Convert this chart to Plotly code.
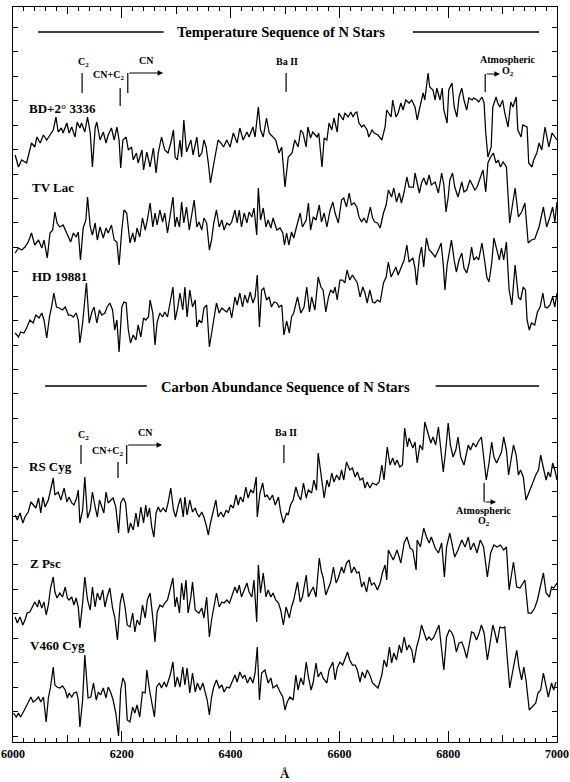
import plotly.graph_objects as go

FONT = "Liberation Serif"

# ---------------- data: (wavelength in Angstrom, relative flux + offset) ----------------
BD_3336 = [(6004,587),(6010,575),(6016,582),(6025,579),(6034,599),(6040,595),(6044,605),(6050,599),(6056,607),(6062,602),
(6068,607),(6074,612),(6079,625),(6083,610),(6089,614),(6092,609),(6099,619),(6103,609),(6108,615),(6114,605),(6118,620),
(6123,614),(6126,619),(6132,610),(6137,625),(6142,609),(6146,575),(6151,614),(6154,620),(6160,602),(6166,610),(6171,599),
(6175,607),(6181,614),(6186,602),(6191,615),(6195,602),(6198,574),(6202,602),(6208,605),(6212,592),(6218,595),(6221,582),
(6227,589),(6230,579),(6237,592),(6240,572),(6246,590),(6252,575),(6258,594),(6263,569),(6267,589),(6273,605),(6279,592),
(6285,589),(6290,599),(6295,612),(6298,585),(6302,582),(6307,602),(6310,585),(6314,622),(6319,590),(6322,594),(6327,602),
(6331,587),(6338,605),(6342,585),(6347,589),(6351,602),(6355,595),(6359,579),(6363,559),(6368,575),(6373,592),(6377,602),
(6382,599),(6387,595),(6393,602),(6399,595),(6405,609),(6412,599),(6417,614),(6423,602),(6430,610),(6434,605),(6441,615),
(6445,605),(6451,635),(6455,612),(6460,605),(6466,624),(6471,609),(6477,605),(6483,602),(6489,589),(6494,595),(6500,555),
(6506,585),(6513,589),(6518,602),(6524,595),(6529,612),(6533,609),(6539,595),(6542,615),(6547,604),(6551,610),(6559,605),
(6562,609),(6568,575),(6572,604),(6577,602),(6581,619),(6586,612),(6590,624),(6596,610),(6599,629),(6607,622),(6610,629),
(6616,625),(6621,630),(6625,625),(6629,629),(6632,630),(6636,619),(6641,615),(6645,617),(6651,612),(6654,605),(6660,612),
(6664,609),(6671,607),(6678,602),(6684,615),(6687,632),(6695,625),(6698,642),(6704,625),(6708,629),(6713,639),(6717,632),
(6722,642),(6728,639),(6733,642),(6739,635),(6743,622),(6748,635),(6754,649),(6757,642),(6763,669),(6766,655),(6772,652),
(6776,642),(6779,654),(6785,642),(6789,654),(6792,632),(6798,619),(6801,652),(6807,659),(6811,635),(6816,625),(6820,645),
(6825,654),(6829,642),(6834,632),(6838,644),(6844,642),(6847,644),(6853,642),(6856,640),(6862,645),(6866,639),(6869,609),
(6873,585),(6879,595),(6882,635),(6888,645),(6891,639),(6895,635),(6900,642),(6904,629),(6910,615),(6915,640),(6919,635),
(6925,645),(6928,612),(6934,605),(6937,617),(6945,615),(6948,579),(6954,575),(6957,582),(6963,589),(6967,599),(6972,592),
(6978,615),(6981,605),(6985,595),(6991,609),(6996,605),(7000,602)]

TV_LAC = [(6004,489),(6010,494),(6016,492),(6022,495),(6028,500),(6034,509),(6040,497),(6047,502),(6053,494),(6057,502),
(6063,484),(6068,509),(6073,512),(6077,530),(6081,519),(6086,515),(6092,517),(6097,510),(6102,505),(6106,500),(6111,509),
(6116,505),(6120,510),(6124,482),(6129,514),(6134,522),(6137,545),(6142,515),(6146,507),(6151,519),(6155,502),(6160,515),
(6166,504),(6171,514),(6175,509),(6181,517),(6186,502),(6191,500),(6195,477),(6200,512),(6204,532),(6209,529),(6215,499),
(6220,509),(6224,500),(6228,514),(6233,505),(6238,524),(6243,512),(6247,522),(6252,539),(6257,515),(6261,529),(6265,517),
(6270,532),(6275,520),(6279,529),(6284,509),(6289,527),(6294,545),(6298,515),(6301,525),(6306,515),(6310,540),(6314,519),
(6319,535),(6324,512),(6328,525),(6333,542),(6338,515),(6342,520),(6347,512),(6351,524),(6356,519),(6361,492),(6365,502),
(6369,519),(6374,532),(6379,515),(6384,522),(6388,512),(6393,519),(6398,517),(6402,520),(6408,532),(6412,519),(6416,532),
(6420,515),(6425,529),(6430,519),(6434,530),(6439,525),(6443,534),(6448,507),(6451,554),(6455,522),(6460,534),(6465,515),
(6469,522),(6474,514),(6478,524),(6485,512),(6491,514),(6496,509),(6499,497),(6503,509),(6507,497),(6512,510),(6516,504),
(6523,519),(6528,529),(6532,515),(6539,522),(6543,539),(6547,512),(6552,525),(6557,522),(6563,537),(6567,520),(6572,529),
(6577,515),(6583,532),(6588,540),(6592,529),(6598,519),(6604,542),(6608,544),(6613,535),(6618,549),(6622,537),(6627,539),
(6632,535),(6636,525),(6641,520),(6645,524),(6650,519),(6653,525),(6657,535),(6661,524),(6665,520),(6670,519),(6675,514),
(6681,529),(6686,537),(6690,552),(6696,545),(6700,554),(6705,540),(6710,549),(6714,539),(6719,550),(6724,565),(6728,555),
(6736,555),(6739,569),(6747,549),(6751,559),(6755,564),(6760,557),(6765,567),(6769,557),(6776,560),(6782,549),(6788,569),
(6792,557),(6796,530),(6800,545),(6803,562),(6808,569),(6812,555),(6818,545),(6825,560),(6829,550),(6834,552),(6840,562),
(6845,557),(6849,552),(6853,555),(6858,562),(6864,572),(6869,550),(6873,579),(6878,585),(6883,589),(6888,579),(6892,582),
(6896,575),(6901,580),(6907,575),(6913,519),(6923,554),(6929,525),(6935,530),(6941,539),(6947,499),(6953,502),(6959,503),
(6967,515),(6975,535),(6981,515),(6987,525),(6992,535),(6996,520),(7000,540)]

HD_19881 = [(6004,409),(6010,405),(6014,410),(6020,409),(6025,414),(6031,422),(6037,419),(6042,427),(6048,424),(6053,429),
(6057,422),(6062,404),(6067,425),(6071,435),(6075,449),(6080,435),(6085,434),(6091,432),(6096,435),(6102,427),(6106,427),
(6111,425),(6116,429),(6120,422),(6123,399),(6128,419),(6132,442),(6135,459),(6140,419),(6145,430),(6149,435),(6154,419),
(6159,432),(6163,427),(6169,429),(6173,435),(6178,439),(6183,432),(6187,412),(6191,422),(6195,390),(6200,435),(6204,440),
(6208,439),(6212,412),(6216,399),(6221,407),(6226,402),(6230,417),(6235,405),(6240,424),(6244,422),(6249,425),(6252,442),
(6257,429),(6261,397),(6265,420),(6270,429),(6275,425),(6279,430),(6284,425),(6289,439),(6294,455),(6298,422),(6302,432),
(6307,449),(6312,432),(6316,455),(6320,425),(6325,452),(6330,435),(6335,442),(6338,415),(6342,422),(6347,419),(6351,434),
(6356,437),(6361,395),(6365,409),(6369,422),(6374,439),(6379,429),(6384,434),(6388,432),(6393,430),(6398,435),(6402,424),
(6408,445),(6412,437),(6417,449),(6422,435),(6426,447),(6431,439),(6436,450),(6441,439),(6445,445),(6449,467),(6453,415),
(6457,452),(6461,454),(6466,442),(6471,445),(6475,435),(6480,440),(6485,439),(6489,435),(6494,437),(6498,407),(6503,421),
(6508,409),(6512,425),(6516,429),(6523,445),(6529,429),(6535,435),(6540,455),(6545,430),(6549,445),(6555,432),(6561,465),
(6566,455),(6570,452),(6575,430),(6580,445),(6584,452),(6589,449),(6592,455),(6596,442),(6601,462),(6606,462),(6610,459),
(6614,472),(6619,462),(6624,467),(6629,462),(6633,459),(6638,445),(6643,455),(6647,449),(6651,439),(6656,452),(6661,440),
(6665,439),(6670,442),(6675,440),(6681,459),(6686,465),(6690,480),(6695,465),(6699,470),(6704,475),(6708,467),(6714,475),
(6719,482),(6724,497),(6728,480),(6735,484),(6739,474),(6742,457),(6747,485),(6751,495),(6755,475),(6760,504),(6765,492),
(6769,490),(6776,485),(6782,492),(6787,499),(6791,477),(6794,452),(6798,477),(6803,495),(6806,502),(6811,482),(6815,470),
(6820,482),(6825,489),(6829,474),(6834,469),(6839,480),(6843,495),(6847,482),(6852,485),(6856,482),(6862,499),(6866,485),
(6871,465),(6875,460),(6880,479),(6884,504),(6889,492),(6894,482),(6898,494),(6902,482),(6907,500),(6912,452),(6917,437),
(6923,477),(6929,445),(6933,442),(6938,455),(6942,452),(6945,422),(6949,412),(6953,419),(6959,417),(6964,430),(6969,435),
(6974,449),(6978,435),(6982,434),(6987,437),(6992,445),(6996,435),(7000,449)]

RS_CYG = [(6004,227),(6008,222),(6013,229),(6018,219),(6022,225),(6028,230),(6033,240),(6037,237),(6042,234),(6047,244),
(6051,229),(6055,245),(6059,235),(6065,242),(6071,255),(6074,264),(6077,247),(6083,250),(6088,242),(6094,254),(6099,240),
(6103,245),(6108,239),(6112,237),(6117,244),(6120,252),(6123,219),(6128,232),(6132,265),(6137,224),(6142,232),(6146,250),
(6151,235),(6155,225),(6159,242),(6163,235),(6167,229),(6171,250),(6175,239),(6180,242),(6184,244),(6189,235),(6194,209),
(6198,239),(6203,244),(6207,239),(6212,209),(6216,219),(6221,212),(6226,229),(6230,215),(6235,235),(6240,219),(6244,237),
(6247,225),(6251,234),(6255,215),(6259,205),(6263,229),(6267,235),(6271,230),(6276,234),(6281,230),(6285,239),(6290,254),
(6295,232),(6299,225),(6304,237),(6308,244),(6313,225),(6316,245),(6320,227),(6325,242),(6330,230),(6335,234),(6338,229),
(6342,225),(6347,230),(6351,225),(6356,215),(6359,207),(6363,219),(6368,230),(6373,242),(6377,225),(6382,230),(6387,225),
(6392,232),(6396,229),(6400,237),(6405,234),(6410,247),(6414,237),(6418,245),(6423,240),(6428,255),(6432,244),(6437,252),
(6442,249),(6447,265),(6449,225),(6454,249),(6459,259),(6463,245),(6467,247),(6472,242),(6477,247),(6482,237),(6488,245),
(6492,230),(6497,219),(6503,229),(6506,227),(6510,237),(6515,242),(6520,255),(6524,247),(6529,242),(6534,259),(6539,244),
(6543,252),(6549,249),(6553,262),(6558,252),(6561,289),(6567,265),(6572,244),(6577,262),(6581,255),(6586,269),(6590,260),
(6595,267),(6600,262),(6604,272),(6608,262),(6613,280),(6619,272),(6624,274),(6629,265),(6633,270),(6638,262),(6643,264),
(6647,254),(6651,260),(6656,254),(6661,259),(6668,257),(6673,260),(6678,277),(6682,262),(6688,295),(6693,277),(6698,284),
(6702,277),(6706,282),(6711,275),(6716,277),(6720,314),(6725,295),(6728,304),(6735,294),(6739,300),(6743,279),(6748,297),
(6753,292),(6757,320),(6763,307),(6768,299),(6772,305),(6777,297),(6782,315),(6787,292),(6791,270),(6796,295),(6800,319),
(6804,297),(6809,285),(6814,292),(6818,305),(6823,285),(6829,277),(6833,287),(6837,297),(6841,292),(6846,299),(6851,295),
(6855,300),(6861,305),(6866,282),(6870,262),(6875,279),(6880,300),(6884,285),(6889,279),(6894,285),(6898,290),(6902,305),
(6907,292),(6911,267),(6915,282),(6920,297),(6925,287),(6929,267),(6933,272),(6938,265),(6943,242),(6948,249),(6952,255),
(6957,262),(6961,267),(6966,272),(6970,287),(6975,274),(6980,262),(6984,270),(6988,265),(6992,279),(6996,272),(7000,262)]

Z_PSC = [(6004,125),(6008,119),(6013,125),(6018,117),(6022,122),(6026,129),(6031,130),(6036,135),(6040,140),(6045,135),
(6048,142),(6053,134),(6057,140),(6061,127),(6065,137),(6069,154),(6074,165),(6077,150),(6081,144),(6086,149),(6091,145),
(6096,155),(6100,144),(6103,142),(6108,145),(6112,137),(6116,144),(6120,135),(6123,114),(6128,139),(6132,165),(6137,142),
(6142,132),(6146,155),(6151,135),(6155,149),(6160,142),(6165,152),(6169,135),(6173,145),(6178,154),(6183,134),(6187,125),
(6192,102),(6197,139),(6201,149),(6206,135),(6210,117),(6215,115),(6220,129),(6224,110),(6228,122),(6233,117),(6238,137),
(6243,124),(6247,142),(6252,149),(6257,124),(6261,100),(6265,130),(6270,137),(6275,135),(6279,139),(6284,142),(6289,154),
(6294,164),(6298,135),(6301,145),(6306,129),(6310,159),(6314,142),(6318,162),(6322,129),(6327,145),(6330,160),(6335,132),
(6339,130),(6342,129),(6347,134),(6351,124),(6356,145),(6361,105),(6365,122),(6369,135),(6374,149),(6379,135),(6384,140),
(6388,139),(6393,142),(6398,139),(6402,145),(6408,155),(6412,149),(6416,157),(6420,145),(6425,152),(6430,159),(6434,150),
(6439,145),(6443,162),(6448,120),(6451,177),(6455,149),(6460,169),(6465,145),(6469,152),(6474,145),(6478,149),(6483,142),
(6488,139),(6492,132),(6497,117),(6502,135),(6508,124),(6512,135),(6516,142),(6523,160),(6528,140),(6532,145),(6539,167),
(6543,145),(6547,150),(6552,155),(6557,145),(6563,184),(6567,170),(6570,165),(6575,147),(6580,155),(6584,160),(6589,175),
(6594,159),(6598,164),(6604,175),(6608,169),(6613,179),(6618,182),(6622,169),(6627,175),(6632,169),(6636,170),(6641,155),
(6645,160),(6650,150),(6655,165),(6659,157),(6664,159),(6670,152),(6675,159),(6679,169),(6684,177),(6687,162),(6690,192),
(6699,182),(6706,192),(6713,179),(6719,199),(6724,205),(6730,194),(6735,192),(6741,172),(6743,202),(6749,195),(6755,214),
(6760,205),(6765,199),(6769,205),(6776,194),(6782,189),(6788,199),(6793,165),(6797,195),(6803,209),(6808,195),(6812,185),
(6818,192),(6825,202),(6831,195),(6837,205),(6841,192),(6847,199),(6853,189),(6859,202),(6865,195),(6872,165),(6878,189),
(6884,197),(6890,195),(6896,197),(6902,192),(6907,195),(6912,152),(6920,180),(6926,155),(6932,154),(6941,162),(6947,129),
(6953,129),(6959,134),(6964,142),(6969,155),(6975,169),(6980,149),(6986,145),(6990,155),(6994,154),(7000,159)]

V460_CYG = [(6001,29),(6006,25),(6010,29),(6014,25),(6019,30),(6024,35),(6028,40),(6033,45),(6037,40),(6042,42),(6047,45),
(6051,40),(6056,45),(6061,20),(6065,44),(6069,55),(6074,75),(6077,57),(6081,55),(6086,54),(6091,56),(6096,52),(6100,44),
(6103,49),(6108,45),(6112,49),(6117,50),(6120,42),(6123,15),(6128,42),(6132,87),(6138,44),(6143,45),(6148,59),(6153,42),
(6157,50),(6161,47),(6166,54),(6171,44),(6175,55),(6180,49),(6184,42),(6189,29),(6194,6),(6198,52),(6202,64),(6206,59),
(6210,22),(6215,20),(6220,35),(6224,29),(6228,37),(6233,25),(6238,50),(6243,49),(6246,72),(6251,52),(6260,25),(6264,55),
(6269,59),(6273,54),(6278,60),(6282,55),(6289,67),(6294,80),(6298,55),(6302,65),(6307,55),(6312,75),(6316,57),(6320,74),
(6325,49),(6330,69),(6335,50),(6339,59),(6344,52),(6349,59),(6353,49),(6357,42),(6361,27),(6365,45),(6369,55),(6374,62),
(6379,54),(6384,57),(6388,50),(6393,55),(6398,54),(6402,59),(6408,67),(6412,60),(6417,70),(6422,64),(6426,67),(6431,59),
(6436,65),(6441,59),(6445,69),(6449,95),(6453,42),(6457,69),(6463,72),(6469,59),(6474,64),(6478,54),(6485,57),(6491,50),
(6496,45),(6500,32),(6504,40),(6509,45),(6515,42),(6520,67),(6524,52),(6529,64),(6534,57),(6539,80),(6543,65),(6548,52),
(6552,60),(6557,79),(6561,65),(6566,70),(6570,64),(6577,59),(6581,72),(6588,80),(6592,62),(6596,74),(6601,80),(6606,77),
(6610,82),(6615,90),(6619,82),(6624,77),(6629,77),(6633,72),(6638,60),(6642,70),(6647,64),(6651,72),(6656,67),(6661,59),
(6665,57),(6671,54),(6678,67),(6682,82),(6687,75),(6692,95),(6696,79),(6700,89),(6705,82),(6710,97),(6714,89),(6719,105),
(6724,92),(6728,97),(6733,92),(6737,79),(6742,95),(6747,105),(6751,117),(6755,110),(6760,102),(6765,105),(6769,102),
(6773,104),(6778,110),(6783,117),(6788,92),(6792,72),(6797,105),(6802,112),(6806,110),(6810,105),(6815,90),(6820,99),
(6825,100),(6829,94),(6834,84),(6839,97),(6843,110),(6847,109),(6852,102),(6857,109),(6861,117),(6866,109),(6872,82),
(6877,99),(6882,117),(6886,109),(6890,99),(6895,115),(6900,114),(6904,115),(6909,85),(6913,54),(6920,75),(6926,92),
(6930,75),(6935,62),(6939,75),(6943,62),(6949,32),(6955,35),(6961,39),(6965,49),(6970,52),(6975,69),(6980,55),(6984,45),
(6990,59),(6994,52),(6998,60)]

STAR_NAMES = ["BD+2° 3336", "TV Lac", "HD 19881", "RS Cyg", "Z Psc", "V460 Cyg"]
STAR_DATA = [BD_3336, TV_LAC, HD_19881, RS_CYG, Z_PSC, V460_CYG]

X_LABEL_TICKS = [6000, 6200, 6400, 6600, 6800, 7000]
X_MID_TICKS = [6100, 6300, 6500, 6700, 6900]

# ---------------- figure ----------------
fig = go.Figure()
for name, pts in zip(STAR_NAMES, STAR_DATA):
    w, f = zip(*pts)
    fig.add_trace(go.Scatter(x=list(w), y=list(f), mode="lines", name=name,
                             line=dict(color="black", width=1.25),
                             showlegend=False, hoverinfo="skip"))

# invisible trace on the second x axis so that it is drawn
fig.add_trace(go.Scatter(x=[6000], y=[0], xaxis="x2", mode="markers",
                         marker=dict(opacity=0), showlegend=False, hoverinfo="skip"))

shapes = []
annotations = []

def line(x0, y0, x1, y1, w=1.2):
    shapes.append(dict(type="line", xref="x", yref="y", x0=x0, y0=y0, x1=x1, y1=y1,
                       line=dict(color="black", width=w)))

def text(x, y, s, size=10, xanchor="center"):
    annotations.append(dict(x=x, y=y, xref="x", yref="y", text=s, showarrow=False,
                            xanchor=xanchor, yanchor="middle",
                            font=dict(family=FONT, size=size, color="black")))

def arrow(x0, y, x1):
    annotations.append(dict(x=x1, y=y, ax=x0, ay=y, xref="x", yref="y", axref="x", ayref="y",
                            text="", showarrow=True, arrowhead=2, arrowsize=1, arrowwidth=1.1,
                            arrowcolor="black", standoff=0, startstandoff=0))

# Section 1 header
text(6493, 710, "<b>Temperature Sequence of N Stars</b>", size=14.5)
line(6046, 710, 6277, 710, 1.4)
line(6735, 710, 6967, 710, 1.4)
# Section 1 markers
text(6129, 680, "<b>C<sub>2</sub></b>", size=10)
line(6127, 669, 6127, 649)
text(6176, 667, "<b>CN+C<sub>2</sub></b>", size=10)
line(6197, 654, 6197, 636)
text(6246, 682, "<b>CN</b>", size=10)
line(6211, 649, 6211, 669)
arrow(6211, 669, 6276)
text(6504, 681, "<b>Ba II</b>", size=10)
line(6502, 669, 6502, 650)
text(6910, 683, "<b>Atmospheric</b>", size=10)
text(6910, 671, "<b>O<sub>2</sub></b>", size=10)
line(6868, 650, 6868, 668)
arrow(6868, 668, 6895)
# star labels section 1
text(6026, 634, "<b>BD+2° 3336</b>", size=13, xanchor="left")
text(6032, 555, "<b>TV Lac</b>", size=13, xanchor="left")
text(6031, 466, "<b>HD 19881</b>", size=13, xanchor="left")

# Section 2 header
text(6500, 355, "<b>Carbon Abundance Sequence of N Stars</b>", size=14.5)
line(6059, 356, 6246, 356, 1.4)
line(6777, 356, 6967, 356, 1.4)
text(6129, 307, "<b>C<sub>2</sub></b>", size=10)
line(6125, 297, 6125, 278)
text(6174, 291, "<b>CN+C<sub>2</sub></b>", size=10)
line(6193, 280, 6193, 264)
text(6244, 310, "<b>CN</b>", size=10)
line(6209, 278, 6209, 297)
arrow(6209, 297, 6274)
text(6501, 310, "<b>Ba II</b>", size=10)
line(6498, 297, 6498, 279)
line(6866, 259, 6866, 240)
arrow(6866, 240, 6888)
text(6866, 232, "<b>Atmospheric</b>", size=10)
text(6866, 221, "<b>O<sub>2</sub></b>", size=10)
text(6026, 276, "<b>RS Cyg</b>", size=13, xanchor="left")
text(6028, 179, "<b>Z Psc</b>", size=13, xanchor="left")
text(6028, 97, "<b>V460 Cyg</b>", size=13, xanchor="left")

# x axis title
annotations.append(dict(x=0.5, y=0, xref="paper", yref="paper", yshift=-31, text="<b>Å</b>",
                        showarrow=False, xanchor="center", yanchor="middle",
                        font=dict(family=FONT, size=13, color="black")))

fig.update_layout(
    width=570, height=782,
    margin=dict(l=13, r=13, t=7, b=40, autoexpand=False),
    paper_bgcolor="white", plot_bgcolor="white",
    showlegend=False,
    shapes=shapes, annotations=annotations,
    xaxis=dict(range=[6000, 7000], tickvals=X_LABEL_TICKS, ticktext=[str(v) for v in X_LABEL_TICKS],
               ticks="inside", ticklen=11, tickwidth=1.1, tickcolor="black", automargin=False,
               showline=True, linecolor="black", linewidth=1.4, mirror="ticks",
               showgrid=False, zeroline=False,
               tickfont=dict(family=FONT, size=12, color="black", weight="bold"),
               minor=dict(dtick=20, tick0=6000, ticks="inside", ticklen=4, tickwidth=1,
                          tickcolor="black", showgrid=False)),
    xaxis2=dict(range=[6000, 7000], overlaying="x", anchor="y", side="bottom", automargin=False,
                tickvals=X_MID_TICKS, ticks="inside", ticklen=7, tickwidth=1.1, tickcolor="black",
                showticklabels=False, showline=False, mirror="ticks",
                showgrid=False, zeroline=False),
    yaxis=dict(range=[0, 735], tick0=6, dtick=24.43, ticks="inside", ticklen=5, tickwidth=1,
               tickcolor="black", showticklabels=False, showline=True, linecolor="black",
               linewidth=1.4, mirror="ticks", showgrid=False, zeroline=False, automargin=False),
)

fig.write_html("out.html", config={"displayModeBar": False},
               post_script="document.body.style.margin='0px';")
